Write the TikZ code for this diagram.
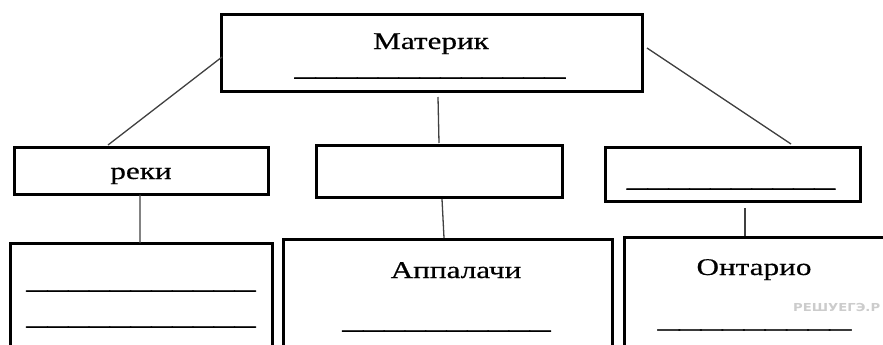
\documentclass[tikz,border=0pt]{standalone}
\usepackage{fontspec}
\setmainfont[FakeBold=0.4]{Liberation Serif}
\newfontfamily\blankfont[FakeBold=1.6]{Liberation Serif}
\newfontfamily\blankfontsm[FakeBold=3]{Liberation Serif}
\newfontfamily\wmfont{DejaVu Sans}
\usepackage{graphicx}
\newcommand{\wide}[1]{\scalebox{1.3}[1]{#1}}
\newcommand{\widebl}[1]{\scalebox{1.733}[1]{#1}}
\begin{document}
\begin{tikzpicture}[x=1pt,y=-1pt,
  box/.style={draw,line width=3pt,rectangle,inner sep=0pt,outer sep=0pt},
  conn/.style={draw=black!75,line width=1.3pt},
  lbl/.style={font=\fontsize{24}{28}\selectfont,inner sep=0pt,anchor=base},
  blank/.style={font=\blankfont\fontsize{24}{28}\selectfont,inner sep=0pt,anchor=base},
  blanksm/.style={font=\blankfontsm\fontsize{16}{18}\selectfont,inner sep=0pt,anchor=base},
  wm/.style={font=\wmfont\bfseries\fontsize{11}{12}\selectfont,text=black!20,inner sep=0pt,anchor=base west}]
\useasboundingbox (0,0) rectangle (883,345);
\clip (0,0) rectangle (883,345);
% boxes
\node[box,minimum width=421pt,minimum height=76.5pt] (top) at (431.5,52.75) {};
\node[box,minimum width=253.3pt,minimum height=47.7pt] (reki) at (141.35,170.85) {};
\node[box,minimum width=246pt,minimum height=51.3pt] (mid) at (439,171.35) {};
\node[box,minimum width=255pt,minimum height=54.7pt] (rt) at (732.5,174.35) {};
\node[box,minimum width=261.7pt,minimum height=137pt] (bl) at (141.15,311.5) {};
\node[box,minimum width=329.5pt,minimum height=140.3pt] (bm) at (447.75,309.85) {};
\node[box,minimum width=296pt,minimum height=143pt] (br) at (772,308.5) {};
% connectors
\draw[conn] ([shift={(1,4.25)}]top.west) -- ([shift={(-33.35,-2)}]reki.north);
\draw[conn] ([shift={(6.5,6)}]top.south) -- ([shift={(0,-2.7)}]mid.north);
\draw[conn] ([shift={(5,-4.75)}]top.east) -- ([shift={(58.5,-3)}]rt.north);
\draw[conn] ([xshift=-1.3pt]reki.south) -- ([xshift=-1.2pt]bl.north);
\draw[conn] ([shift={(3,2)}]mid.south) -- ([shift={(-3.75,-1.7)}]bm.north);
\draw[conn] ([shift={(12.5,6.3)}]rt.south) -- ([shift={(-27,-1)}]br.north);
% texts
\node[lbl] (tMat) at (431,49) {\wide{Материк}};
\node[blank] (uMat) at (430,75.7) {\widebl{\_\_\_\_\_\_\_\_\_\_\_\_\_}};
\node[lbl] (tReki) at (141,179) {\wide{реки}};
\node[blank] (uRt) at (731,186.7) {\widebl{\_\_\_\_\_\_\_\_\_\_}};
\node[blank] (uBl1) at (141,288.7) {\widebl{\_\_\_\_\_\_\_\_\_\_\_}};
\node[blank] (uBl2) at (141,324.7) {\widebl{\_\_\_\_\_\_\_\_\_\_\_}};
\node[lbl] (tApp) at (456,278) {\wide{Аппалачи}};
\node[blank] (uApp) at (446.5,328.7) {\widebl{\_\_\_\_\_\_\_\_\_\_}};
\node[lbl] (tOnt) at (754,275) {\wide{Онтарио}};
\node[blanksm] (uOnt) at (754.5,328.4) {\scalebox{2.68}[1]{\_\_\_\_\_\_\_\_\_}};
\node[wm] (wmark) at (793,311) {\scalebox{1.2}[1]{РЕШУЕГЭ.Р}};
\end{tikzpicture}
\end{document}
